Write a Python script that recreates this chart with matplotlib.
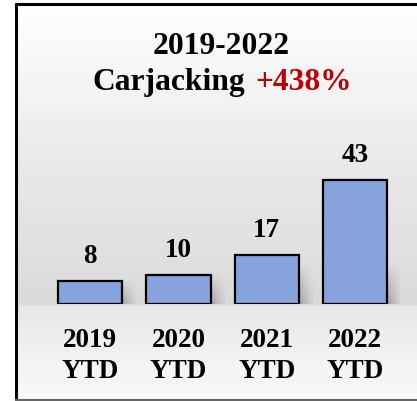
import numpy as np
import matplotlib
matplotlib.use("Agg")
import matplotlib.pyplot as plt

years = ["2019", "2020", "2021", "2022"]
suffix = "YTD"
counts = [8, 10, 17, 43]
title_top = "2019-2022"
title_word = "Carjacking"
title_change = "+438%"

W, H = 417, 401
plt.rcParams['font.family'] = ['Liberation Serif', 'DejaVu Serif']
plt.rcParams['font.weight'] = 'bold'

fig = plt.figure(figsize=(W / 100, H / 100), dpi=100)

# background panel with vertical gradient and frame
bg = fig.add_axes([0, 0, 1, 1], zorder=-5)
bg.set_xlim(0, W)
bg.set_ylim(H, 0)
bg.axis('off')
ys = np.arange(H)
stops_y = [0, 20, 110, 150, 250, 303, 306, 330, 395, 401]
stops_v = [1.0, 0.99, 0.945, 0.92, 0.88, 0.855, 0.905, 0.93, 0.975, 0.98]
shade = np.interp(ys, stops_y, stops_v)
grad = np.repeat(shade[:, None], 3, axis=1)[:, None, :]
bg.imshow(grad, extent=(16, W, 400, 4), aspect='auto', zorder=0)
bg.plot([16, 16], [3, 400], color='black', lw=2.2, solid_capstyle='butt', zorder=2)
bg.plot([15, W], [4, 4], color='black', lw=2.2, solid_capstyle='butt', zorder=2)
bg.plot([15, W], [399.5, 399.5], color='#666666', lw=1.5, solid_capstyle='butt', zorder=2)

# main chart axes
ax = fig.add_axes([46 / W, (H - 304) / H, 353.3 / W, 144 / H])
ax.patch.set_alpha(0)
ax.set_xlim(-0.5, 3.5)
ax.set_ylim(0, 50)
ax.axis('off')

x = np.arange(len(counts))
bw = 0.725

# soft shadow to the right of each bar
sw = 0.19
for xi, c in zip(x, counts):
    sh = min(c, 14)
    nx, ny = 40, 60
    gx = np.linspace(0, 1, nx)
    gy = np.linspace(0, 1, ny)
    ax_fade = (1 - gx) ** 1.3
    ay_fade = np.clip(1 - gy, 0, 1) ** 0.9
    alpha = 0.5 * ay_fade[:, None] * ax_fade[None, :]
    rgba = np.zeros((ny, nx, 4))
    rgba[..., :3] = 0.4
    rgba[..., 3] = alpha
    x0 = xi + bw / 2
    ax.imshow(rgba, extent=(x0, x0 + sw, 0, sh), origin='lower',
              aspect='auto', zorder=1, interpolation='bilinear')

ax.bar(x, counts, width=bw, color='#86a3de', edgecolor='black', linewidth=1.6, zorder=3)

for xi, c in zip(x, counts):
    ax.annotate(str(c), xy=(xi, c), xytext=(0, 13), textcoords='offset points',
                ha='center', va='baseline', fontsize=19.5, fontweight='bold')
    ax.annotate(years[xi], xy=(xi, 0), xytext=(0, -31), textcoords='offset points',
                ha='center', va='baseline', fontsize=19.5, fontweight='bold',
                annotation_clip=False)
    ax.annotate(suffix, xy=(xi, 0), xytext=(0, -53.3), textcoords='offset points',
                ha='center', va='baseline', fontsize=19.5, fontweight='bold',
                annotation_clip=False)

ax.set_xlim(-0.5, 3.5)
ax.set_ylim(0, 50)

# title
fig.text(221.5 / W, 1 - 54 / H, title_top, ha='center', va='baseline',
         fontsize=22.7, fontweight='bold')
fig.text(93 / W, 1 - 90 / H, title_word, ha='left', va='baseline',
         fontsize=22.7, fontweight='bold', color='black')
fig.text(255 / W, 1 - 90 / H, title_change, ha='left', va='baseline',
         fontsize=22.7, fontweight='bold', color='#c00000')

fig.savefig('out.png', dpi=100)
